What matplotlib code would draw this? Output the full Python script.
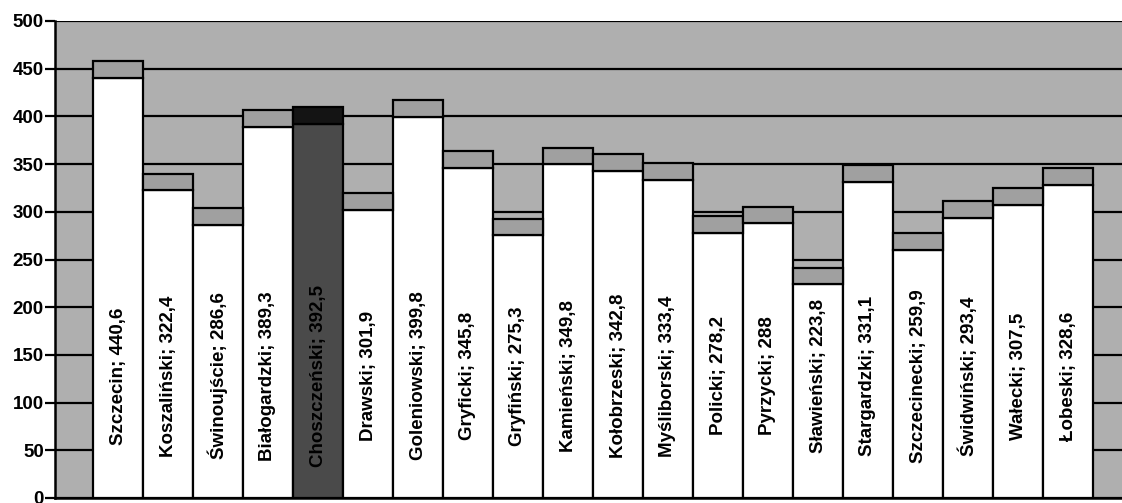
import numpy as np
import matplotlib
matplotlib.use('Agg')
import matplotlib.pyplot as plt

plt.rcParams['font.family'] = ['Liberation Sans', 'DejaVu Sans']

# powiaty and their values
names = ['Szczecin', 'Koszaliński', 'Świnoujście', 'Białogardzki', 'Choszczeński',
         'Drawski', 'Goleniowski', 'Gryficki', 'Gryfiński', 'Kamieński',
         'Kołobrzeski', 'Myśliborski', 'Policki', 'Pyrzycki', 'Sławieński',
         'Stargardzki', 'Szczecinecki', 'Świdwiński', 'Wałecki', 'Łobeski']
values = [440.6, 322.4, 286.6, 389.3, 392.5,
          301.9, 399.8, 345.8, 275.3, 349.8,
          342.8, 333.4, 278.2, 288, 223.8,
          331.1, 259.9, 293.4, 307.5, 328.6]
highlight = 'Choszczeński'
yticks = [0, 50, 100, 150, 200, 250, 300, 350, 400, 450, 500]

depth = 17.5      # top face of the 3d column
label_y = 128

fig = plt.figure(figsize=(11.22, 5.03), dpi=100)
ax = fig.add_axes([55/1122., 5/503., 1 - 55/1122., 477/503.])
ax.set_facecolor('#afafaf')

x = np.arange(len(names))
fcol = ['#4a4a4a' if n == highlight else 'white' for n in names]
ccol = ['#141414' if n == highlight else '#a0a0a0' for n in names]

ax.bar(x, values, width=1.0, color=fcol, edgecolor='black', linewidth=1.6, zorder=3)
ax.bar(x, [depth]*len(x), bottom=values, width=1.0, color=ccol,
       edgecolor='black', linewidth=1.6, zorder=3)

for i in range(len(names)):
    lab = '{0}; {1:g}'.format(names[i], values[i]).replace('.', ',')
    ax.text(x[i], label_y, lab, rotation=90, ha='center', va='center',
            fontsize=13.5, fontweight='bold', color='black', zorder=4)

ax.set_xlim(-1.26, 20.08)
ax.set_ylim(0, 500)
ax.set_yticks(yticks)
ax.set_yticklabels([str(t) for t in yticks], fontsize=13.5, fontweight='bold')
ax.set_xticks([])
ax.tick_params(axis='y', direction='out', length=7, width=1.6, pad=1)
ax.yaxis.grid(True, color='black', linewidth=1.6, zorder=1)
ax.set_axisbelow(True)
for s in ['top', 'right']:
    ax.spines[s].set_visible(False)
for s in ['left', 'bottom']:
    ax.spines[s].set_linewidth(1.8)
    ax.spines[s].set_zorder(5)

fig.savefig('out.png', dpi=100)
